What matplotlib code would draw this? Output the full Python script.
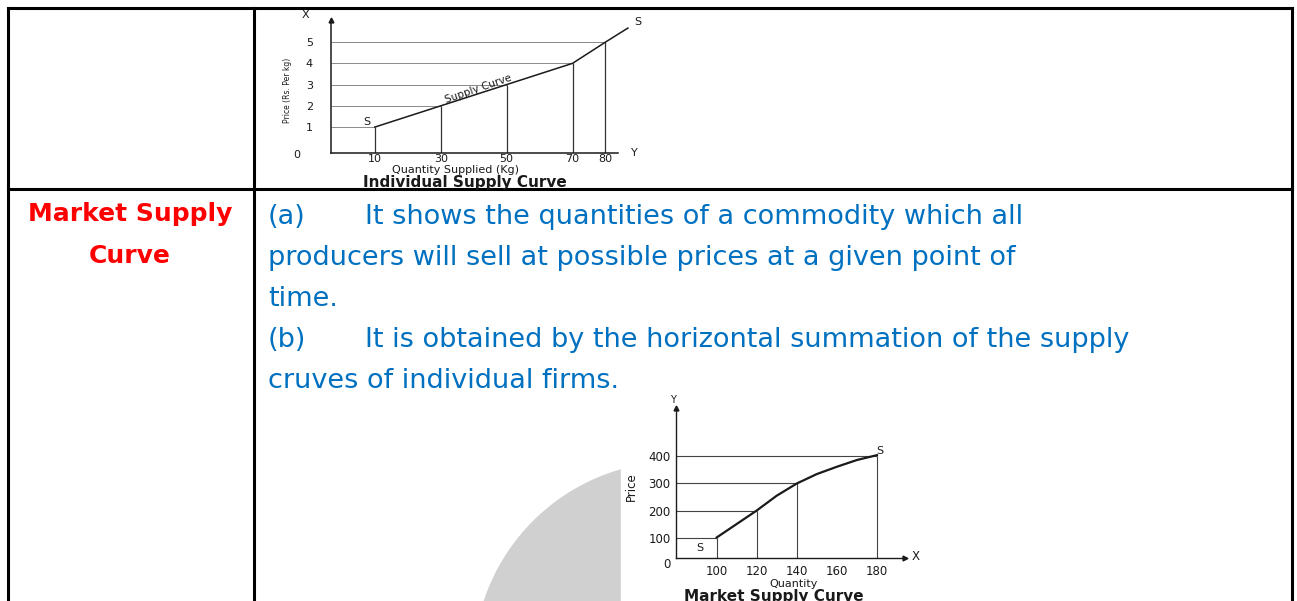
import matplotlib.pyplot as plt
from matplotlib.lines import Line2D
from matplotlib.patches import Ellipse, Rectangle

W, H = 1297, 601

# individual supply schedule
ind_qty = [10, 30, 50, 70, 80]
ind_price = [1, 2, 3, 4, 5]
ind_curve_q = [10, 30, 50, 70, 80, 86.8]
ind_curve_p = [1, 2, 3, 4, 5, 5.66]

# market supply schedule
mkt_qty = [100, 120, 140, 180]
mkt_price = [100, 200, 300, 400]
mkt_curve_q = [100, 120, 130, 140, 150, 160, 170, 180]
mkt_curve_p = [100, 200, 255, 300, 335, 362, 387, 405]
mkt_xticks = [100, 120, 140, 160, 180]
mkt_yticks = [100, 200, 300, 400]

heading = ['Market Supply', 'Curve']
notes = [
    (268, 224, '(a)'),
    (365, 224, 'It shows the quantities of a commodity which all'),
    (268, 265, 'producers will sell at possible prices at a given point of'),
    (268, 306, 'time.'),
    (268, 347, '(b)'),
    (365, 347, 'It is obtained by the horizontal summation of the supply'),
    (268, 388, 'cruves of individual firms.'),
]


def fx(px):
    return px / W


def fy(py):
    return 1 - py / H


def box(l, t, r, b):
    return [fx(l), fy(b), (r - l) / W, (b - t) / H]


fig = plt.figure(figsize=(W / 100, H / 100), dpi=100)
fig.patch.set_facecolor('white')

# table rules
rule = dict(color='black', lw=2.2, transform=fig.transFigure,
            solid_capstyle='projecting', zorder=3)
fig.add_artist(Line2D([fx(7.5), fx(1292)], [fy(7.5), fy(7.5)], **rule))
fig.add_artist(Line2D([fx(7.5), fx(7.5)], [fy(7.5), fy(605)], **rule))
fig.add_artist(Line2D([fx(1292), fx(1292)], [fy(7.5), fy(605)], **rule))
fig.add_artist(Line2D([fx(253.5), fx(253.5)], [fy(7.5), fy(605)], **rule))
fig.add_artist(Line2D([fx(7.5), fx(1292)], [fy(189.5), fy(189.5)], **rule))

# faded grey disc behind the second diagram, and that diagram's white card
fig.add_artist(Ellipse((fx(677), fy(665)), 2 * 203 / W, 2 * 203 / H,
                       transform=fig.transFigure, color='#d0d0d0', zorder=0.2))
fig.add_artist(Rectangle((fx(621), fy(601)), (930 - 621) / W, (601 - 393) / H,
                         transform=fig.transFigure, color='white', zorder=0.5))

# row heading
fig.text(fx(130), fy(221), heading[0], color='#ff0000', fontsize=18,
         fontweight='bold', ha='center', va='baseline')
fig.text(fx(130), fy(263), heading[1], color='#ff0000', fontsize=18,
         fontweight='bold', ha='center', va='baseline')

for x, y, s in notes:
    fig.text(fx(x), fy(y), s, color='#0070c0', fontsize=19.5, ha='left', va='baseline')

ink = '#1a1a1a'

# ---- individual supply curve ----
ax1 = fig.add_axes(box(331, 20, 618, 153))
ax1.set_zorder(1)
ax1.patch.set_alpha(0)
x0, x1 = -3.3, 83.8
y0, y1 = -0.22, 6.04
ax1.set_xlim(x0, x1)
ax1.set_ylim(y0, y1)
ax1.hlines(ind_price, x0, ind_qty, color='#8a8a8a', lw=0.7)
ax1.vlines(ind_qty, y0, ind_price, color='#333333', lw=0.9)
ax1.plot(ind_curve_q, ind_curve_p, color=ink, lw=1.1, clip_on=False)
for side in ['top', 'right']:
    ax1.spines[side].set_visible(False)
for side in ['left', 'bottom']:
    ax1.spines[side].set_linewidth(1.1)
    ax1.spines[side].set_color(ink)
ax1.plot([0], [1], marker='^', ms=3.5, color=ink, transform=ax1.transAxes, clip_on=False)
ax1.set_xticks(ind_qty)
ax1.set_yticks(ind_price)
ax1.tick_params(length=0, labelsize=8, colors=ink)
ax1.tick_params(axis='y', pad=13)
ax1.tick_params(axis='x', pad=0.5)

fig.text(fx(297), fy(155), '0', fontsize=8, color=ink, ha='center', va='center')
fig.text(fx(305), fy(15), 'X', fontsize=8, color=ink, ha='center', va='center')
fig.text(fx(634), fy(153), 'Y', fontsize=8, color=ink, ha='center', va='center')
fig.text(fx(638), fy(22), 'S', fontsize=8, color=ink, ha='center', va='center')
fig.text(fx(367), fy(122), 'S', fontsize=8, color=ink, ha='center', va='center')
fig.text(fx(478), fy(89), 'Supply Curve', fontsize=7.5, color=ink, rotation=19,
         ha='center', va='center')
fig.text(fx(288), fy(90), 'Price (Rs. Per kg)', fontsize=5.5, color=ink, rotation=90,
         family=['Liberation Sans Narrow', 'DejaVu Sans'], ha='center', va='center')
fig.text(fx(456), fy(170), 'Quantity Supplied (Kg)', fontsize=8, color=ink,
         ha='center', va='center')
fig.text(fx(465), fy(182), 'Individual Supply Curve', fontsize=11, color=ink,
         fontweight='bold', ha='center', va='center')

# ---- market supply curve ----
ax2 = fig.add_axes(box(676, 408, 905, 558))
ax2.set_zorder(1)
ax2.patch.set_alpha(0)
mx0, mx1 = 79.7, 194.0
my0, my1 = 24.1, 579.6
ax2.set_xlim(mx0, mx1)
ax2.set_ylim(my0, my1)
ax2.hlines(mkt_price, mx0, mkt_qty, color='#444444', lw=0.8)
ax2.vlines(mkt_qty, my0, mkt_price, color='#444444', lw=0.8)
ax2.plot(mkt_curve_q, mkt_curve_p, color=ink, lw=1.6)
for side in ['top', 'right']:
    ax2.spines[side].set_visible(False)
for side in ['left', 'bottom']:
    ax2.spines[side].set_linewidth(1.0)
    ax2.spines[side].set_color(ink)
ax2.plot([0], [1], marker='^', ms=3.5, color=ink, transform=ax2.transAxes, clip_on=False)
ax2.plot([1], [0], marker='>', ms=3.5, color=ink, transform=ax2.transAxes, clip_on=False)
ax2.set_xticks(mkt_xticks)
ax2.set_yticks(mkt_yticks)
ax2.tick_params(length=0, labelsize=8.5, colors=ink)
ax2.tick_params(axis='y', pad=4)
ax2.tick_params(axis='x', pad=5)

fig.text(fx(667), fy(565), '0', fontsize=8.5, color=ink, ha='center', va='center')
fig.text(fx(673), fy(400), 'Y', fontsize=7, color=ink, ha='center', va='center')
fig.text(fx(916), fy(557), 'X', fontsize=8.5, color=ink, ha='center', va='center')
fig.text(fx(700), fy(548), 'S', fontsize=8, color=ink, ha='center', va='center')
fig.text(fx(880), fy(451), 'S', fontsize=8, color=ink, ha='center', va='center')
fig.text(fx(631), fy(487), 'Price', fontsize=8.5, color=ink, rotation=90,
         ha='center', va='center')
fig.text(fx(794), fy(584), 'Quantity', fontsize=8, color=ink, ha='center', va='center')
fig.text(fx(774), fy(596), 'Market Supply Curve', fontsize=11, color=ink,
         fontweight='bold', ha='center', va='center')

fig.savefig('out.png', dpi=100)
